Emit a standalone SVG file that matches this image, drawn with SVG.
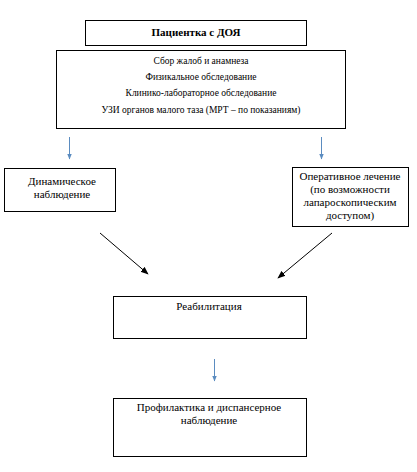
<svg xmlns="http://www.w3.org/2000/svg" width="417" height="472" viewBox="0 0 417 472">
<style>
.box{fill:#fff;stroke:#000;stroke-width:1}
.t{font-family:"Liberation Serif","Times New Roman",serif;font-size:11px;fill:#000;text-anchor:middle}
.s{font-size:9.5px}
.b{font-weight:bold}
.blue{stroke:#5b8cc0;stroke-width:1;fill:none}
.blk{stroke:#000;stroke-width:1;fill:none}
</style>
<defs>
<marker id="ab" viewBox="0 0 10 10" refX="9" refY="5" markerWidth="6" markerHeight="6" markerUnits="userSpaceOnUse" orient="auto"><path d="M0,1 L10,5 L0,9 z" fill="#5b8cc0"/></marker>
<marker id="ak" viewBox="0 0 10 10" refX="9" refY="5" markerWidth="8" markerHeight="8" markerUnits="userSpaceOnUse" orient="auto"><path d="M0,1 L10,5 L0,9 z" fill="#000"/></marker>
</defs>
<rect width="417" height="472" fill="#fff"/>
<g id="n1"><rect class="box" x="85.5" y="20.5" width="221" height="25"/><text class="t b" x="196" y="36">Пациентка с ДОЯ</text></g>
<g id="n2"><rect class="box" x="56.5" y="50.5" width="289" height="78"/>
<text class="t s" x="201" y="64">Сбор жалоб и анамнеза</text>
<text class="t s" x="201" y="80">Физикальное обследование</text>
<text class="t s" x="201" y="96">Клинико-лабораторное обследование</text>
<text class="t s" x="201" y="113">УЗИ органов малого таза (МРТ – по показаниям)</text></g>
<g id="n3"><rect class="box" x="4.5" y="168.5" width="111" height="43"/>
<text class="t" x="62" y="185">Динамическое</text><text class="t" x="62" y="198">наблюдение</text></g>
<g id="n4"><rect class="box" x="292.5" y="167.5" width="116" height="59"/>
<text class="t" x="350" y="180">Оперативное лечение</text><text class="t" x="350" y="193">(по возможности</text><text class="t" x="350" y="206">лапароскопическим</text><text class="t" x="350" y="219">доступом)</text></g>
<g id="n5"><rect class="box" x="113.5" y="296.5" width="193" height="42"/><text class="t" x="209" y="310">Реабилитация</text></g>
<g id="n6"><rect class="box" x="113.5" y="398.5" width="193" height="58"/><text class="t" x="209" y="411">Профилактика и диспансерное</text><text class="t" x="209" y="424">наблюдение</text></g>
<g id="connectors">
<line class="blue" x1="69.5" y1="137" x2="69.5" y2="159" marker-end="url(#ab)"/>
<line class="blue" x1="321.5" y1="137" x2="321.5" y2="159" marker-end="url(#ab)"/>
<line class="blue" x1="214.5" y1="359" x2="214.5" y2="381" marker-end="url(#ab)"/>
<line class="blk" x1="100" y1="233" x2="148" y2="274" marker-end="url(#ak)"/>
<line class="blk" x1="332" y1="233" x2="278" y2="278" marker-end="url(#ak)"/>
</g>
</svg>
